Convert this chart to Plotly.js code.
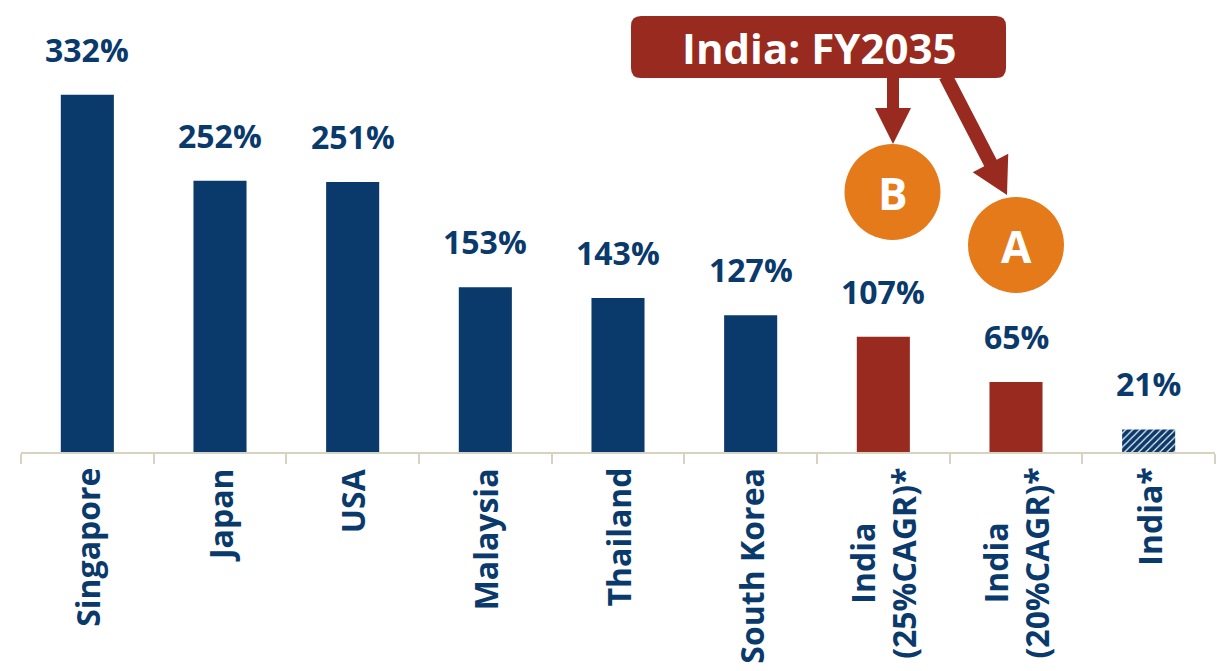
<!DOCTYPE html>
<html>
<head>
<meta charset="utf-8">
<script src="https://cdn.plot.ly/plotly-3.0.1.min.js"></script>
<style>html,body{margin:0;padding:0;background:#fff;}#chart{width:1219px;height:671px;}</style>
</head>
<body>
<div id="chart"></div>
<script>
// ---- data ----
const categories = ['Singapore','Japan','USA','Malaysia','Thailand','South Korea','India<br>(25%CAGR)*','India<br>(20%CAGR)*','India*'];
const benchmarkCountries = ['Singapore','Japan','USA','Malaysia','Thailand','South Korea'];
const benchmarkValues = [332,252,251,153,143,127];
const projectionLabels = ['India<br>(25%CAGR)*','India<br>(20%CAGR)*'];
const projectionValues = [107,65];
const currentLabels = ['India*'];
const currentValues = [21];
const calloutText = 'India: FY2035';
const scenarioMarkers = ['B','A'];

// ---- styles ----
const NAVY = '#0a3a6b', RED = '#992a20', ORANGE = '#e57a1b', AXIS = '#d8d3c1';
const FONT = 'Open Sans';

// pixel -> paper helpers (plot area: x 21..1215, y 0..452)
const L = 21, R = 1215, T = 0, B = 452;
const px = X => (X - L) / (R - L);
const py = Y => (B - Y) / (B - T);
const P = (X, Y) => px(X) + ',' + py(Y);

const traces = [
  {type:'bar', x: benchmarkCountries, y: benchmarkValues, marker:{color:NAVY}, width:0.4},
  {type:'bar', x: projectionLabels, y: projectionValues, marker:{color:RED}, width:0.4},
  {type:'bar', x: currentLabels, y: currentValues, width:0.4,
   marker:{color:NAVY, pattern:{shape:'/', fillmode:'replace', fgcolor:'#ffffff', bgcolor:NAVY, size:5, solidity:0.22}}}
];

const annotations = [];
const allX = benchmarkCountries.concat(projectionLabels, currentLabels);
const allY = benchmarkValues.concat(projectionValues, currentValues);
allX.forEach((c, i) => {
  annotations.push({x:c, y:allY[i], xref:'x', yref:'y', text:allY[i] + '%', showarrow:false,
    xanchor:'center', yanchor:'bottom', yshift:22, font:{family:FONT, size:32, color:NAVY, weight:700}});
});
categories.forEach(c => {
  annotations.push({x:c, y:0, xref:'x', yref:'y', text:c, showarrow:false, textangle:-90,
    xanchor:'center', yanchor:'top', yshift:-14, align:'center', font:{family:FONT, size:32, color:NAVY, weight:700}});
});
function centered(X, Y, text, size) {
  return {x:px(X), y:py(Y), xref:'paper', yref:'paper', xanchor:'center', yanchor:'middle', text:text,
    showarrow:false, font:{family:FONT, size:size, color:'#ffffff', weight:700}};
}
annotations.push(centered(818.5, 47, calloutText, 42));
annotations.push(centered(892.5, 193, scenarioMarkers[0], 44));
annotations.push(centered(1016, 246, scenarioMarkers[1], 44));

// rounded callout box
function roundRect(x0, y0, x1, y1, r) {
  return 'M' + P(x0 + r, y0) + ' L' + P(x1 - r, y0) + ' Q' + P(x1, y0) + ' ' + P(x1, y0 + r) +
    ' L' + P(x1, y1 - r) + ' Q' + P(x1, y1) + ' ' + P(x1 - r, y1) +
    ' L' + P(x0 + r, y1) + ' Q' + P(x0, y1) + ' ' + P(x0, y1 - r) +
    ' L' + P(x0, y0 + r) + ' Q' + P(x0, y0) + ' ' + P(x0 + r, y0) + ' Z';
}
function arrowPath(sx, sy, tx, ty, shaftHalf, headHalf, headLen) {
  const dx = tx - sx, dy = ty - sy, len = Math.hypot(dx, dy);
  const ux = dx / len, uy = dy / len, nx = -uy, ny = ux;
  const bx = tx - ux * headLen, by = ty - uy * headLen;
  const pts = [
    [sx + nx * shaftHalf, sy + ny * shaftHalf],
    [bx + nx * shaftHalf, by + ny * shaftHalf],
    [bx + nx * headHalf, by + ny * headHalf],
    [tx, ty],
    [bx - nx * headHalf, by - ny * headHalf],
    [bx - nx * shaftHalf, by - ny * shaftHalf],
    [sx - nx * shaftHalf, sy - ny * shaftHalf]
  ];
  return 'M' + pts.map(p => P(p[0], p[1])).join(' L') + ' Z';
}
function circle(cx, cy, r) {
  return {type:'circle', xref:'paper', yref:'paper', x0:px(cx - r), x1:px(cx + r), y0:py(cy + r), y1:py(cy - r),
    fillcolor:ORANGE, line:{width:0}, layer:'above'};
}
const shapes = [
  {type:'path', xref:'paper', yref:'paper', path:roundRect(631, 16, 1006, 78, 10), fillcolor:RED, line:{width:0}, layer:'above'},
  {type:'path', xref:'paper', yref:'paper', path:arrowPath(893, 76, 893, 144, 6, 18, 36), fillcolor:RED, line:{width:0}, layer:'above'},
  {type:'path', xref:'paper', yref:'paper', path:arrowPath(945.5, 76, 1007, 195, 7, 20, 36), fillcolor:RED, line:{width:0}, layer:'above'},
  circle(892.5, 192, 48),
  circle(1016, 245, 48)
];

const layout = {
  width:1219, height:671,
  margin:{l:L, r:1219 - R, t:T, b:671 - B, pad:0},
  paper_bgcolor:'#ffffff', plot_bgcolor:'#ffffff',
  showlegend:false, barmode:'overlay',
  xaxis:{type:'category', categoryorder:'array', categoryarray:categories, range:[-0.5, categories.length - 0.5],
    showticklabels:false, showline:true, linecolor:AXIS, linewidth:2, ticks:'outside', tickson:'boundaries',
    ticklen:10, tickcolor:AXIS, tickwidth:2, showgrid:false, zeroline:false, fixedrange:true},
  yaxis:{range:[0, 420], visible:false, showgrid:false, zeroline:false, fixedrange:true},
  annotations: annotations,
  shapes: shapes
};

Plotly.newPlot('chart', traces, layout, {displayModeBar:false, staticPlot:true});
</script>
</body>
</html>
